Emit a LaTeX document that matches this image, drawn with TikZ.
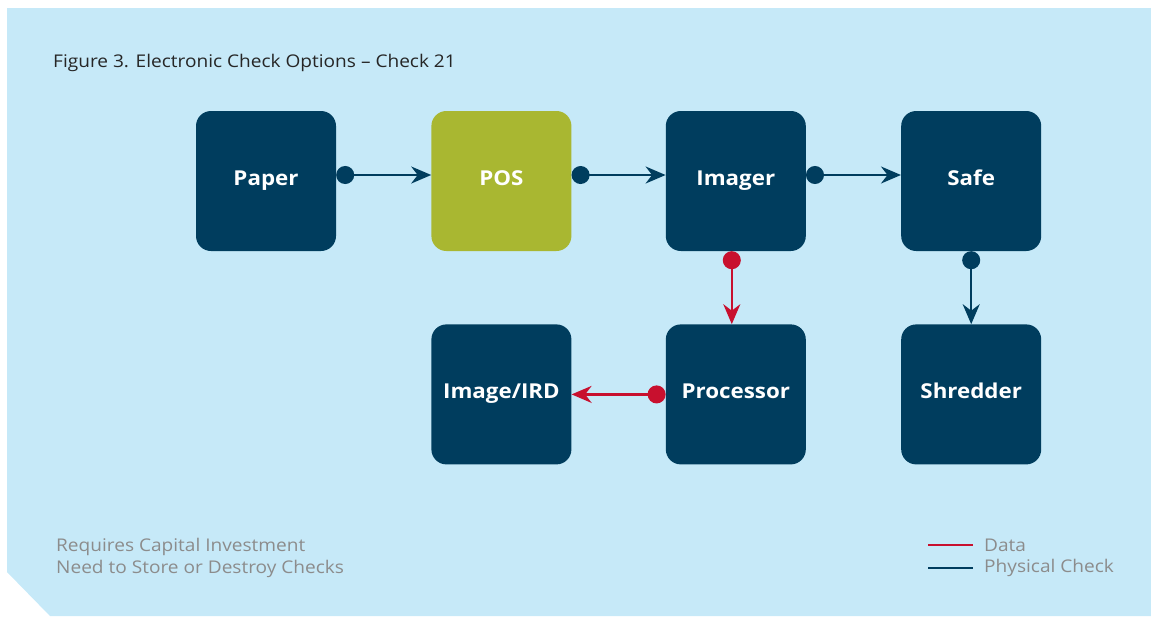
\documentclass[tikz,border=0pt]{standalone}
\usepackage{fontspec}
\setmainfont{Open Sans}[FakeStretch=1.09]
\usepackage{tikz}
\usepackage{xcolor}
\usetikzlibrary{positioning,arrows.meta}
\definecolor{navy}{HTML}{003D5E}
\definecolor{olive}{HTML}{A9B731}
\definecolor{datared}{HTML}{C8102E}
\definecolor{paleblue}{HTML}{C6E9F8}
\definecolor{notegray}{HTML}{8C8C8C}
\tikzset{
    step-box/.style = {fill=navy, text=white, rectangle, rounded corners=15pt, minimum width=140pt, minimum height=140pt, text height=14pt, text depth=6pt, font=\fontsize{20.5}{24}\selectfont\bfseries},
    pos-box/.style = {step-box, fill=olive},
    check-flow/.style = {draw=navy, line width=2.4pt, {Circle[length=18pt]}-{Stealth[length=20pt,width=17pt]}},
    data-flow/.style = {check-flow, draw=datared},
    note/.style = {text=notegray, font=\fontsize{17.5}{22}\selectfont, anchor=west, inner sep=0pt},
}

\begin{document}
\begin{tikzpicture}[x=1pt, y=-1pt]
\useasboundingbox (0,0) rectangle (1151,616);
\fill[paleblue] (7,8) -- (1151,8) -- (1151,616) -- (50,616) -- (7,572) -- cycle;
\node[anchor=west, inner sep=0pt, font=\fontsize{17.5}{20}\selectfont, text=black!85] (title) at (53,63) {Figure 3. Electronic Check Options -- Check 21};

% top row
\node[step-box] (paper) at (266,181) {Paper};
\node[pos-box, right=95pt of paper] (pos) {POS};
\node[step-box, right=94pt of pos] (imager) {Imager};
\node[step-box, right=95pt of imager] (safe) {Safe};
% bottom row
\node[step-box, below=73pt of imager] (processor) {Processor};
\node[step-box, left=94pt of processor] (ird) {Image/IRD};
\node[step-box, below=73pt of safe] (shredder) {Shredder};

\draw[check-flow] ([yshift=6pt]paper.east) -- ([yshift=6pt]pos.west);
\draw[check-flow] ([yshift=6pt]pos.east) -- ([yshift=6pt]imager.west);
\draw[check-flow] ([yshift=6pt]imager.east) -- ([yshift=6pt]safe.west);
\draw[check-flow] (safe.south) -- (shredder.north);
\draw[data-flow] ([xshift=-4pt]imager.south) -- ([xshift=-4pt]processor.north);
\draw[data-flow] (processor.west) -- (ird.east);

% notes and legend
\node[note] (cost) at (56,547) {Requires Capital Investment};
\node[note] (store) at (56,569) {Need to Store or Destroy Checks};
\coordinate (dataline) at (928,545);
\coordinate (checkline) at (928,568);
\draw[datared, line width=2.4pt] (dataline) -- ++(45,0) node[note, right=10pt] (datalabel) {Data};
\draw[navy, line width=2.4pt] (checkline) -- ++(45,0) node[note, right=10pt] (checklabel) {Physical Check};
\end{tikzpicture}
\end{document}
